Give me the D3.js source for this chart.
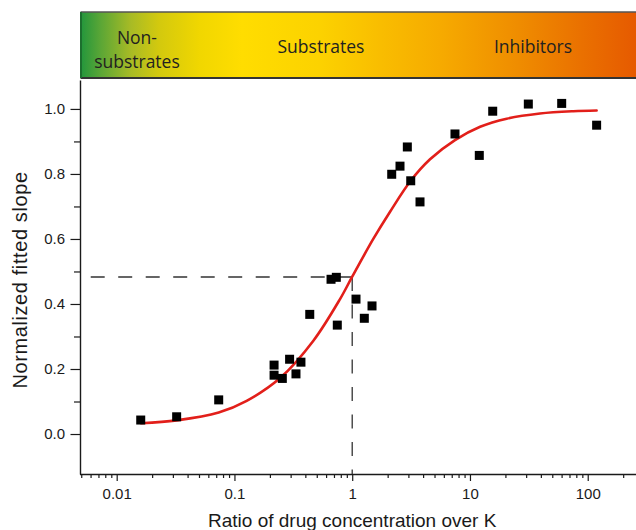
<!DOCTYPE html>
<html>
<head>
<meta charset="utf-8">
<script src="https://cdn.jsdelivr.net/npm/d3@7"></script>
<style>
  html, body { margin: 0; padding: 0; background: #fff; }
  svg { display: block; }
</style>
</head>
<body>
<svg id="chart" width="636" height="530"></svg>
<script>
// ---- data ----
const pointX = [0.0160, 0.0323, 0.0735, 0.217, 0.217, 0.255, 0.294, 0.333, 0.367, 0.436,
                0.661, 0.733, 0.747, 1.077, 1.267, 1.473, 2.165, 2.546, 2.938, 3.140,
                3.765, 7.46, 12.0, 15.6, 31.3, 60.1, 119];
const pointY = [0.043, 0.053, 0.105, 0.212, 0.181, 0.171, 0.230, 0.185, 0.221, 0.368,
                0.476, 0.482, 0.335, 0.415, 0.356, 0.394, 0.799, 0.824, 0.883, 0.779,
                0.714, 0.923, 0.857, 0.993, 1.015, 1.017, 0.950];
const curveX = [0.0161, 0.0323, 0.0735, 0.127, 0.244, 0.468, 0.788, 1.0, 1.51, 2.09,
                3.14, 4.58, 7.46, 12.2, 20.5, 39.3, 75.5, 119];
const curveY = [0.033, 0.042, 0.066, 0.102, 0.172, 0.287, 0.415, 0.484, 0.600, 0.683,
                0.779, 0.845, 0.904, 0.945, 0.970, 0.986, 0.993, 0.995];
const halfX = 1.0;
const halfY = 0.483;
const xMajorTicks = [0.01, 0.1, 1, 10, 100];
const xMajorLabels = ["0.01", "0.1", "1", "10", "100"];
const xMinorTicks = [0.005, 0.006, 0.007, 0.008, 0.009,
                     0.02, 0.03, 0.04, 0.05, 0.06, 0.07, 0.08, 0.09,
                     0.2, 0.3, 0.4, 0.5, 0.6, 0.7, 0.8, 0.9,
                     2, 3, 4, 5, 6, 7, 8, 9,
                     20, 30, 40, 50, 60, 70, 80, 90, 200];
const yMajorTicks = [0.0, 0.2, 0.4, 0.6, 0.8, 1.0];
const yMajorLabels = ["0.0", "0.2", "0.4", "0.6", "0.8", "1.0"];
const yMinorTicks = [0.1, 0.3, 0.5, 0.7, 0.9];
const bannerLabels = [
  { lines: ["Non-", "substrates"], at: 0.01486 },
  { lines: ["Substrates"], at: 0.543 },
  { lines: ["Inhibitors"], at: 34.3 }
];
const gradientStops = [
  [0.0, "#23963c"], [0.035, "#5aa636"], [0.09, "#a8bb25"], [0.14, "#d3c90e"],
  [0.215, "#f1d700"], [0.29, "#ffdd00"], [0.43, "#fcd200"], [0.54, "#f9bd00"],
  [0.65, "#f6aa00"], [0.79, "#ef8c00"], [0.9, "#ea7100"], [1.0, "#e65a00"]
];

// ---- layout ----
const svg = d3.select("#chart");
const L = 80, R = 636, T = 80, B = 474;
const x = d3.scaleLog().domain([0.00488, 257]).range([L, R]);
const y = d3.scaleLinear().domain([-0.123, 1.089]).range([B, T]);
const axisFont = "'Liberation Sans', Arial, Helvetica, sans-serif";

// ---- banner ----
const defs = svg.append("defs");
const grad = defs.append("linearGradient").attr("id", "bannerGrad")
  .attr("gradientUnits", "userSpaceOnUse")
  .attr("x1", L + 1).attr("x2", R).attr("y1", 0).attr("y2", 0);
gradientStops.forEach(s => grad.append("stop").attr("offset", s[0]).attr("stop-color", s[1]));

const bTop = 12, bBot = 78;
svg.append("rect").attr("x", L + 1).attr("y", bTop).attr("width", R - L + 10).attr("height", bBot - bTop)
  .attr("fill", "url(#bannerGrad)");
svg.append("line").attr("x1", L + 0.5).attr("x2", R + 5).attr("y1", bTop).attr("y2", bTop)
  .attr("stroke", "#555").attr("stroke-width", 1.5);
svg.append("line").attr("x1", L + 0.5).attr("x2", R + 5).attr("y1", bBot).attr("y2", bBot)
  .attr("stroke", "#333").attr("stroke-width", 2);
svg.append("line").attr("x1", L + 1).attr("x2", L + 1).attr("y1", bTop).attr("y2", bBot)
  .attr("stroke", "#1c6f2e").attr("stroke-width", 2);

bannerLabels.forEach(b => {
  const t = svg.append("text")
    .attr("x", x(b.at))
    .attr("text-anchor", "middle")
    .attr("font-family", "'Open Sans', 'Noto Sans', sans-serif")
    .attr("font-size", 17.5)
    .attr("fill", "#231f20");
  if (b.lines.length === 2) {
    t.append("tspan").attr("x", x(b.at)).attr("y", 43.5).text(b.lines[0]);
    t.append("tspan").attr("x", x(b.at)).attr("y", 67.5).text(b.lines[1]);
  } else {
    t.attr("y", 52.5).text(b.lines[0]);
  }
});

// ---- axes ----
function styleAxis(g) {
  g.selectAll("path.domain").attr("stroke", "#1a1a1a").attr("stroke-width", 1.4);
  g.selectAll(".tick line").attr("stroke", "#1a1a1a").attr("stroke-width", 1.2);
  g.selectAll(".tick text").attr("font-family", axisFont).attr("font-size", 15).attr("fill", "#1a1a1a");
}

const gxMinor = svg.append("g").attr("transform", `translate(0,${B})`)
  .call(d3.axisBottom(x).tickValues(xMinorTicks).tickSize(4).tickSizeOuter(0).tickFormat(""));
styleAxis(gxMinor);
const gxMajor = svg.append("g").attr("transform", `translate(0,${B})`)
  .call(d3.axisBottom(x).tickValues(xMajorTicks).tickSize(7).tickPadding(7.5).tickSizeOuter(0)
    .tickFormat((d, i) => xMajorLabels[i]));
styleAxis(gxMajor);
gxMajor.select("path.domain").attr("d", `M${L},0.5H${R + 5}`);
gxMinor.select("path.domain").remove();

const gyMinor = svg.append("g").attr("transform", `translate(${L},0)`)
  .call(d3.axisLeft(y).tickValues(yMinorTicks).tickSize(6).tickSizeOuter(0).tickFormat(""));
styleAxis(gyMinor);
gyMinor.select("path.domain").remove();
const gyMajor = svg.append("g").attr("transform", `translate(${L},0)`)
  .call(d3.axisLeft(y).tickValues(yMajorTicks).tickSize(9.5).tickPadding(5.5).tickSizeOuter(0)
    .tickFormat((d, i) => yMajorLabels[i]));
styleAxis(gyMajor);

// ---- axis titles ----
svg.append("text")
  .attr("x", x(1)).attr("y", 527)
  .attr("text-anchor", "middle")
  .attr("font-family", axisFont).attr("font-size", 19).attr("fill", "#1a1a1a")
  .text("Ratio of drug concentration over K");

svg.append("text")
  .attr("transform", "translate(27,280) rotate(-90)")
  .attr("text-anchor", "middle")
  .attr("font-family", axisFont).attr("font-size", 20).attr("letter-spacing", 0.6).attr("fill", "#1a1a1a")
  .text("Normalized fitted slope");

// ---- dashed guide lines ----
svg.append("line")
  .attr("x1", x(halfX)).attr("x2", L).attr("y1", y(halfY)).attr("y2", y(halfY))
  .attr("stroke", "#333").attr("stroke-width", 1.3).attr("stroke-dasharray", "14,13.5");
svg.append("line")
  .attr("x1", x(halfX)).attr("x2", x(halfX)).attr("y1", y(halfY)).attr("y2", B)
  .attr("stroke", "#333").attr("stroke-width", 1.3).attr("stroke-dasharray", "14,13.5");

// ---- fitted curve ----
const curveData = curveX.map((v, i) => ({ x: v, y: curveY[i] }));
svg.append("path")
  .datum(curveData)
  .attr("fill", "none")
  .attr("stroke", "#e21f1a")
  .attr("stroke-width", 2.6)
  .attr("stroke-linecap", "round")
  .attr("d", d3.line().x(d => x(d.x)).y(d => y(d.y)).curve(d3.curveCatmullRom.alpha(0.5)));

// ---- data points ----
const pts = pointX.map((v, i) => ({ x: v, y: pointY[i] }));
const s = 9;
svg.append("g").selectAll("rect").data(pts).join("rect")
  .attr("x", d => x(d.x) - s / 2)
  .attr("y", d => y(d.y) - s / 2)
  .attr("width", s).attr("height", s)
  .attr("fill", "#000");
</script>
</body>
</html>
